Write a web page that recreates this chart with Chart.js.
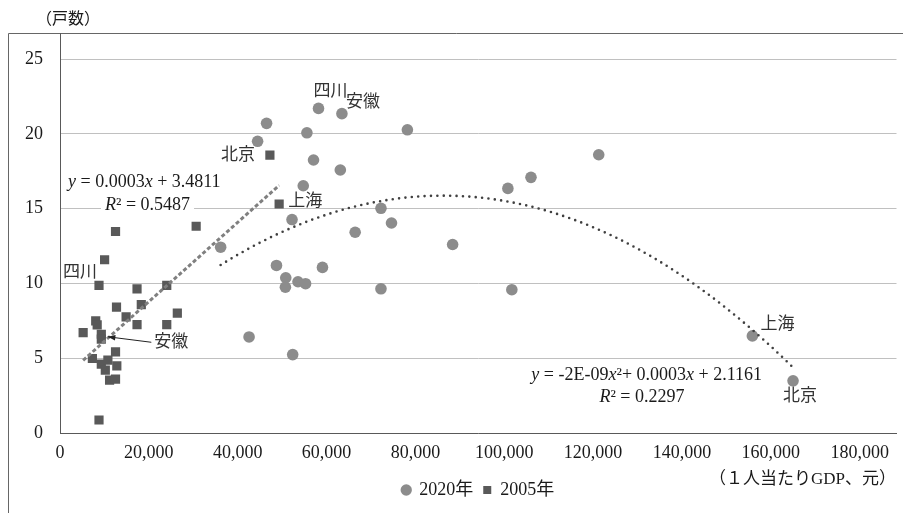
<!DOCTYPE html>
<html>
<head>
<meta charset="utf-8">
<script src="https://cdn.jsdelivr.net/npm/chart.js@4.4.0/dist/chart.umd.min.js"></script>
<style>
  html, body { margin: 0; padding: 0; background: #fff; overflow: hidden; }
  #wrap { width: 903px; height: 513px; position: relative; }
</style>
</head>
<body>
<div id="wrap"><canvas id="c" width="903" height="513"></canvas></div>
<script>
// 1人当たりGDP（元）と戸数 — 2020年
const gdp2020 = [42560, 44480, 46500, 58190, 63460, 55580, 57070, 63100, 54760, 52230,
                 66440, 72250, 74620, 36160, 48730, 50820, 50740, 53570, 55280, 59080,
                 72250, 52380, 78200, 100820, 121270, 106020, 101710, 88380, 155860, 165010];
const households2020 = [6.42, 19.5, 20.7, 21.7, 21.35, 20.07, 18.25, 17.58, 16.53, 14.27,
                        13.42, 15.02, 14.04, 12.42, 11.2, 10.38, 9.75, 10.11, 9.98, 11.07,
                        9.64, 5.24, 20.27, 16.35, 18.6, 17.09, 9.58, 12.6, 6.49, 3.49];
const names2020 = ['', '', '', '四川', '安徽', '', '', '', '', '',
                   '', '', '', '', '', '', '', '', '', '',
                   '', '', '', '', '', '', '', '', '上海', '北京'];

// 2005年
const gdp2005 = [12500, 10040, 30650, 8780, 17340, 24030, 12720, 18300, 26410, 14880,
                 8040, 8370, 17340, 24030, 5210, 9300, 9300, 12500, 7290, 9300,
                 10780, 12790, 10200, 11160, 12500, 8780, 47250, 49330];
const households2005 = [13.47, 11.58, 13.82, 9.87, 9.64, 9.87, 8.42, 8.58, 8.02, 7.76,
                        7.5, 7.23, 7.25, 7.25, 6.71, 6.6, 6.27, 5.42, 4.98, 4.6,
                        4.87, 4.49, 4.2, 3.53, 3.6, 0.87, 18.58, 15.31];
const names2005 = ['', '', '', '四川', '', '', '', '', '', '',
                   '', '', '', '', '', '安徽', '', '', '', '',
                   '', '', '', '', '', '', '北京', '上海'];

const seriesLabels = ['2020年', '2005年'];

// axis ticks
const xTicks = [0, 20000, 40000, 60000, 80000, 100000, 120000, 140000, 160000, 180000];
const yTicks = [0, 5, 10, 15, 20, 25];
const xMax = 188300;
const yMax = 26.74;

// trend lines (Excel-style fits) and their printed equations
const fit2005 = { slope: 0.000265, intercept: 3.4811 };
const fit2020 = { a: -1.85e-9, b: 0.000319, c: 2.1161 };
const equation2005 = ['y = 0.0003x + 3.4811', 'R² = 0.5487'];
const equation2020 = ['y = -2E-09x²+ 0.0003x + 2.1161', 'R² = 0.2297'];

const axisTitleY = '（戸数）';
const axisTitleX = '（１人当たりGDP、元）';

const SERIF = '"Liberation Serif", "Noto Sans CJK JP", serif';
const TEXT = '#1a1a1a';

const toPoints = (xs, ys) => xs.map((x, i) => ({ x, y: ys[i] }));

const lin2005 = x => fit2005.slope * x + fit2005.intercept;
const quad2020 = x => fit2020.a * x * x + fit2020.b * x + fit2020.c;

const lo05 = Math.min(...gdp2005), hi05 = Math.max(...gdp2005);
const trend2005 = [{ x: lo05, y: lin2005(lo05) }, { x: hi05, y: lin2005(hi05) }];

const lo20 = Math.min(...gdp2020), hi20 = Math.max(...gdp2020);
const trend2020 = [];
for (let i = 0; i <= 120; i++) {
  const x = lo20 + (hi20 - lo20) * i / 120;
  trend2020.push({ x, y: quad2020(x) });
}

// draws a string with x, y and R in italics
function drawEquation(ctx, str, x, y, align, size) {
  const runs = [];
  for (const ch of str) {
    const it = 'xyR'.includes(ch);
    if (runs.length && runs[runs.length - 1].it === it) runs[runs.length - 1].t += ch;
    else runs.push({ t: ch, it });
  }
  let total = 0;
  runs.forEach(r => {
    ctx.font = (r.it ? 'italic ' : '') + size + 'px ' + SERIF;
    r.w = ctx.measureText(r.t).width;
    total += r.w;
  });
  let cx = align === 'right' ? x - total : align === 'center' ? x - total / 2 : x;
  ctx.fillStyle = '#fff';
  ctx.fillRect(cx - 4, y - 11, total + 8, 22);
  ctx.fillStyle = TEXT;
  ctx.textBaseline = 'middle';
  ctx.textAlign = 'left';
  runs.forEach(r => {
    ctx.font = (r.it ? 'italic ' : '') + size + 'px ' + SERIF;
    ctx.fillText(r.t, cx, y);
    cx += r.w;
  });
}

const annotate = {
  id: 'annotate',
  beforeDraw(chart) {
    const ctx = chart.ctx;
    ctx.save();
    ctx.strokeStyle = '#666';
    ctx.lineWidth = 1;
    ctx.beginPath();
    ctx.moveTo(8.5, 600);
    ctx.lineTo(8.5, 33.5);
    ctx.lineTo(1000, 33.5);
    ctx.stroke();
    ctx.restore();
  },
  afterDatasetsDraw(chart) {
    const ctx = chart.ctx;
    ctx.save();

    // province labels
    const place = {
      '0-四川': { dx: 12, dy: -17, align: 'center' },
      '0-安徽': { dx: 4, dy: -11, align: 'left' },
      '0-上海': { dx: 8, dy: -11, align: 'left' },
      '0-北京': { dx: 7, dy: 16, align: 'center' },
      '1-四川': { dx: -19, dy: -13, align: 'center' },
      '1-安徽': { dx: 53, dy: 8, align: 'left', arrow: true },
      '1-北京': { dx: -15, dy: 0, align: 'right' },
      '1-上海': { dx: 9, dy: -2, align: 'left' }
    };
    const metas = [chart.getDatasetMeta(2), chart.getDatasetMeta(3)];
    [names2020, names2005].forEach((names, s) => {
      names.forEach((name, i) => {
        if (!name) return;
        const p = metas[s].data[i];
        const o = place[s + '-' + name];
        ctx.font = '17px ' + SERIF;
        ctx.fillStyle = '#333';
        ctx.textAlign = o.align;
        ctx.textBaseline = 'middle';
        ctx.fillText(name, p.x + o.dx, p.y + o.dy);
        if (o.arrow) {
          const x1 = p.x + o.dx - 3, y1 = p.y + o.dy;
          const x2 = p.x + 6.5, y2 = p.y + 2.5;
          const ang = Math.atan2(y2 - y1, x2 - x1);
          ctx.strokeStyle = '#222';
          ctx.lineWidth = 1;
          ctx.beginPath();
          ctx.moveTo(x1, y1);
          ctx.lineTo(x2, y2);
          ctx.stroke();
          ctx.fillStyle = '#222';
          ctx.beginPath();
          ctx.moveTo(x2, y2);
          ctx.lineTo(x2 - 8 * Math.cos(ang - 0.35), y2 - 8 * Math.sin(ang - 0.35));
          ctx.lineTo(x2 - 8 * Math.cos(ang + 0.35), y2 - 8 * Math.sin(ang + 0.35));
          ctx.closePath();
          ctx.fill();
        }
      });
    });

    // trend equations
    drawEquation(ctx, equation2005[0], 68, 182, 'left', 18);
    drawEquation(ctx, equation2005[1], 105, 205, 'left', 18);
    drawEquation(ctx, equation2020[0], 762, 375, 'right', 18);
    drawEquation(ctx, equation2020[1], 642, 397, 'center', 18);

    // axis titles
    ctx.fillStyle = TEXT;
    ctx.textBaseline = 'middle';
    ctx.font = '16px ' + SERIF;
    ctx.textAlign = 'left';
    ctx.fillText(axisTitleY, 36, 20);
    ctx.font = '17px ' + SERIF;
    ctx.textAlign = 'right';
    ctx.fillText(axisTitleX, 896, 480);
    ctx.restore();
  }
};

new Chart(document.getElementById('c'), {
  type: 'scatter',
  data: {
    datasets: [
      {
        label: 'trend2005', isTrend: true, showLine: true,
        data: trend2005,
        borderColor: '#808080', borderWidth: 3, borderDash: [4, 2.4],
        pointRadius: 0, fill: false, order: 0
      },
      {
        label: 'trend2020', isTrend: true, showLine: true,
        data: trend2020,
        borderColor: '#404040', borderWidth: 2.6, borderDash: [0, 6.4], borderCapStyle: 'round',
        pointRadius: 0, fill: false, tension: 0, order: 0
      },
      {
        label: seriesLabels[0],
        data: toPoints(gdp2020, households2020),
        backgroundColor: '#8c8c8c', borderWidth: 0,
        pointStyle: 'circle', pointRadius: 5.8, order: 1
      },
      {
        label: seriesLabels[1],
        data: toPoints(gdp2005, households2005),
        backgroundColor: '#595959', borderWidth: 0,
        pointStyle: 'rect', pointRadius: 6.5, order: 2
      }
    ]
  },
  options: {
    responsive: false,
    animation: false,
    events: [],
    locale: 'en-US',
    layout: { padding: { top: 33, left: 8, right: 0, bottom: 4 } },
    scales: {
      x: {
        type: 'linear', min: 0, max: xMax,
        afterBuildTicks: s => { s.ticks = xTicks.map(v => ({ value: v })); },
        afterFit: s => { s.height = 38; },
        grid: { display: false, drawTicks: false },
        border: { display: true, color: '#595959', width: 1 },
        ticks: { padding: 9, color: TEXT, font: { family: SERIF, size: 18 }, maxRotation: 0 }
      },
      y: {
        type: 'linear', min: 0, max: yMax,
        afterBuildTicks: s => { s.ticks = yTicks.map(v => ({ value: v })); },
        afterFit: s => { s.width = 52; },
        grid: { color: '#c0c0c0', lineWidth: 1, drawTicks: false },
        border: { display: true, color: '#595959', width: 1 },
        ticks: { padding: 17, color: TEXT, font: { family: SERIF, size: 18 } }
      }
    },
    plugins: {
      tooltip: { enabled: false },
      legend: {
        position: 'bottom',
        fullSize: false,
        labels: {
          usePointStyle: true, boxWidth: 8, boxHeight: 8, padding: 10,
          color: TEXT, font: { family: SERIF, size: 18 },
          filter: (item, data) => !data.datasets[item.datasetIndex].isTrend
        }
      }
    }
  },
  plugins: [annotate]
});
</script>
</body>
</html>
